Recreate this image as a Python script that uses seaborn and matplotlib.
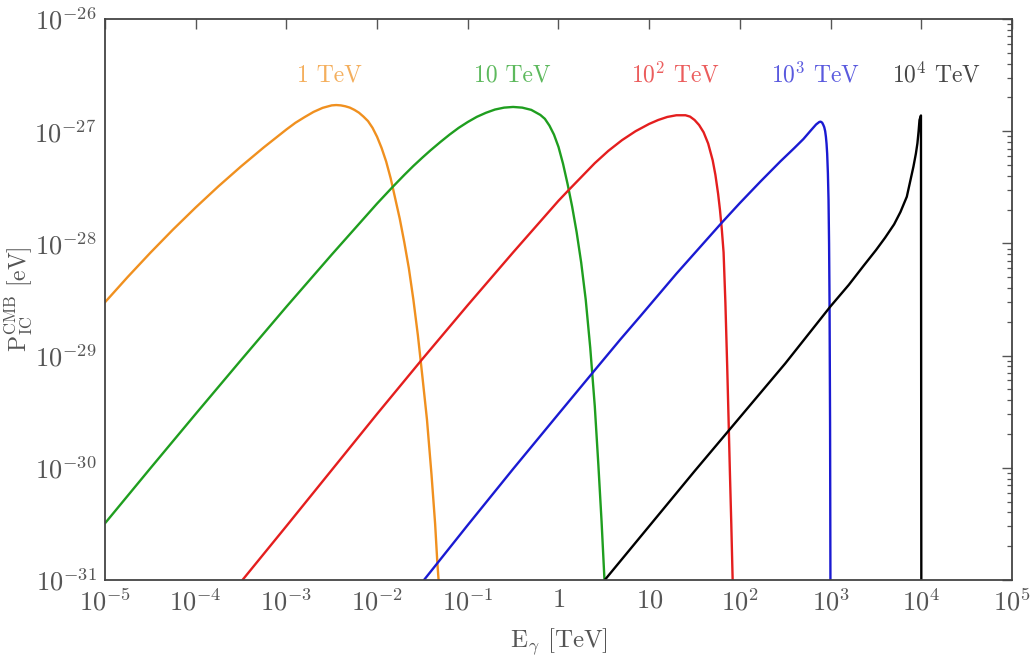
import numpy as np
import pandas as pd
import matplotlib
matplotlib.use("Agg")
import matplotlib.pyplot as plt
import matplotlib.ticker as mticker
import seaborn as sns

# ---- data (log10 values) ----
series_names = ["1 TeV", "10 TeV", "1e2 TeV", "1e3 TeV", "1e4 TeV"]

logE_1 = [-5.0, -4.75, -4.5, -4.25, -4.0, -3.75, -3.5, -3.25, -3.0, -2.9, -2.8, -2.7, -2.6,
          -2.5, -2.45, -2.4, -2.35, -2.3, -2.25, -2.2, -2.15, -2.1, -2.05, -2.0, -1.95, -1.9,
          -1.85, -1.8, -1.75, -1.7, -1.65, -1.6, -1.55, -1.5, -1.45, -1.4, -1.36, -1.336, -1.322]
logP_1 = [-28.525, -28.30, -28.084, -27.877, -27.68, -27.492, -27.314, -27.145, -26.985,
          -26.925, -26.875, -26.828, -26.792, -26.770, -26.767, -26.770, -26.778, -26.79,
          -26.81, -26.835, -26.87, -26.91, -26.97, -27.05, -27.15, -27.27, -27.42, -27.60,
          -27.78, -27.99, -28.22, -28.50, -28.82, -29.19, -29.57, -30.06, -30.50, -30.84, -31.0]

logE_2 = [-5.0, -4.5, -4.0, -3.5, -3.0, -2.5, -2.0, -1.832, -1.7, -1.6, -1.5, -1.41, -1.3,
          -1.2, -1.1, -1.0, -0.9, -0.8, -0.7, -0.6, -0.5, -0.4, -0.3, -0.2, -0.15, -0.1, -0.05,
          0.0, 0.05, 0.1, 0.15, 0.2, 0.25, 0.3, 0.35, 0.4, 0.44, 0.475, 0.507]
logP_2 = [-30.495, -30.005, -29.52, -29.04, -28.565, -28.10, -27.645, -27.50, -27.39,
          -27.31, -27.235, -27.17, -27.095, -27.03, -26.97, -26.918, -26.872, -26.836,
          -26.807, -26.79, -26.784, -26.79, -26.81, -26.855, -26.89, -26.95, -27.03, -27.14,
          -27.29, -27.47, -27.67, -27.90, -28.17, -28.50, -28.93, -29.45, -29.98, -30.48, -31.0]

logE_3 = [-3.484, -3.0, -2.5, -2.0, -1.5, -1.0, -0.5, 0.0, 0.113, 0.25, 0.4, 0.55, 0.7, 0.85,
          1.0, 1.1, 1.2, 1.3, 1.4, 1.45, 1.5, 1.55, 1.6, 1.65, 1.7, 1.73, 1.76, 1.78, 1.8, 1.82,
          1.84, 1.86, 1.876, 1.89, 1.905, 1.92]
logP_3 = [-31.0, -30.52, -30.02, -29.52, -29.03, -28.55, -28.08, -27.62, -27.524, -27.41,
          -27.285, -27.175, -27.08, -27.0, -26.935, -26.90, -26.873, -26.858, -26.858, -26.87,
          -26.90, -26.945, -27.01, -27.11, -27.26, -27.39, -27.56, -27.70, -27.87, -28.08,
          -28.53, -29.10, -29.60, -30.05, -30.50, -31.0]

logE_4 = [-1.483, -1.0, -0.5, 0.0, 0.371, 0.683, 0.903, 1.3, 1.795, 2.0, 2.225, 2.445, 2.6,
          2.7, 2.78, 2.84, 2.875, 2.89, 2.907, 2.92, 2.93, 2.94, 2.948, 2.955, 2.962, 2.970,
          2.977, 2.983, 2.988, 2.994, 2.998]
logP_4 = [-31.0, -30.51, -30.01, -29.52, -29.158, -28.855, -28.648, -28.27, -27.82, -27.64,
          -27.45, -27.27, -27.15, -27.07, -26.995, -26.94, -26.918, -26.915, -26.924, -26.945,
          -26.965, -27.0, -27.049, -27.11, -27.2, -27.375, -27.613, -28.0, -28.504, -29.6, -31.0]

logE_5 = [0.51, 1.0, 1.5, 2.0, 2.5, 3.0, 3.2, 3.363, 3.5, 3.6, 3.7, 3.77, 3.84, 3.913, 3.94,
          3.957, 3.97, 3.98, 3.996, 4.0]
logP_5 = [-31.0, -30.52, -30.03, -29.55, -29.07, -28.56, -28.37, -28.2, -28.06, -27.95,
          -27.83, -27.72, -27.584, -27.316, -27.2, -27.108, -27.0, -26.9, -26.86, -31.0]

label_texts = ["1 TeV", "10 TeV", r"10$^{2}$ TeV", r"10$^{3}$ TeV", r"10$^{4}$ TeV"]
label_logE = [-2.53, -0.51, 1.29, 2.83, 4.17]
line_colors = ["#f0901f", "#1f9e1f", "#e41e1e", "#1a1ad2", "#000000"]

xtick_vals = [1e-5, 1e-4, 1e-3, 1e-2, 1e-1, 1, 10, 1e2, 1e3, 1e4, 1e5]
xtick_labels = [r"$10^{-5}$", r"$10^{-4}$", r"$10^{-3}$", r"$10^{-2}$", r"$10^{-1}$", r"$1$",
                r"$10$", r"$10^{2}$", r"$10^{3}$", r"$10^{4}$", r"$10^{5}$"]
ytick_vals = [1e-31, 1e-30, 1e-29, 1e-28, 1e-27, 1e-26]
ytick_labels = [r"$10^{-31}$", r"$10^{-30}$", r"$10^{-29}$", r"$10^{-28}$", r"$10^{-27}$",
                r"$10^{-26}$"]

# ---- build table ----
frames = []
for name, le, lp in zip(series_names,
                        [logE_1, logE_2, logE_3, logE_4, logE_5],
                        [logP_1, logP_2, logP_3, logP_4, logP_5]):
    frames.append(pd.DataFrame({"E": 10.0 ** np.array(le), "P": 10.0 ** np.array(lp),
                                "series": name}))
df = pd.concat(frames, ignore_index=True)

sns.set_style("white")
plt.rcParams["font.family"] = "serif"
plt.rcParams["font.serif"] = ["cmr10", "DejaVu Serif"]
plt.rcParams["mathtext.fontset"] = "cm"
plt.rcParams["axes.formatter.use_mathtext"] = True

text_gray = "#555555"
fig = plt.figure(figsize=(10.33, 6.57), dpi=100)
ax = fig.add_axes([0.1016, 0.1172, 0.8781, 0.8539])

sns.lineplot(data=df, x="E", y="P", hue="series", palette=dict(zip(series_names, line_colors)),
             sort=False, estimator=None, units="series", linewidth=1.7, legend=False, ax=ax)

ax.set_xscale("log")
ax.set_yscale("log")
ax.set_xlim(1e-5, 1e5)
ax.set_ylim(1e-31, 1e-26)

ax.xaxis.set_major_locator(mticker.FixedLocator(xtick_vals))
ax.xaxis.set_major_formatter(mticker.FixedFormatter(xtick_labels))
ax.xaxis.set_minor_locator(mticker.NullLocator())
ax.yaxis.set_major_locator(mticker.FixedLocator(ytick_vals))
ax.yaxis.set_major_formatter(mticker.FixedFormatter(ytick_labels))
ax.yaxis.set_minor_locator(mticker.LogLocator(base=10, subs=np.arange(2, 10), numticks=20))
ax.yaxis.set_minor_formatter(mticker.NullFormatter())

ax.tick_params(which="both", direction="in", top=True, right=True, colors=text_gray,
               labelcolor=text_gray)
ax.tick_params(which="major", length=7, width=1.0, labelsize=19, pad=6)
ax.tick_params(which="minor", length=3.5, width=0.9)

for sp in ax.spines.values():
    sp.set_color("#444444")
    sp.set_linewidth(1.3)

ax.set_xlabel(r"$\mathrm{E}_{\gamma}$ [TeV]", fontsize=18, color=text_gray, labelpad=8)
ax.set_ylabel(r"$\mathrm{P}_{\mathrm{IC}}^{\mathrm{CMB}}$ [eV]", fontsize=17, color=text_gray)
ax.yaxis.set_label_coords(-0.077, 0.5)

for txt, le, col in zip(label_texts, label_logE, line_colors):
    ax.text(10.0 ** le, 10.0 ** -26.5, txt, color=col, alpha=0.72, fontsize=17,
            ha="center", va="center")

fig.savefig("out.png", dpi=100, facecolor="white")
